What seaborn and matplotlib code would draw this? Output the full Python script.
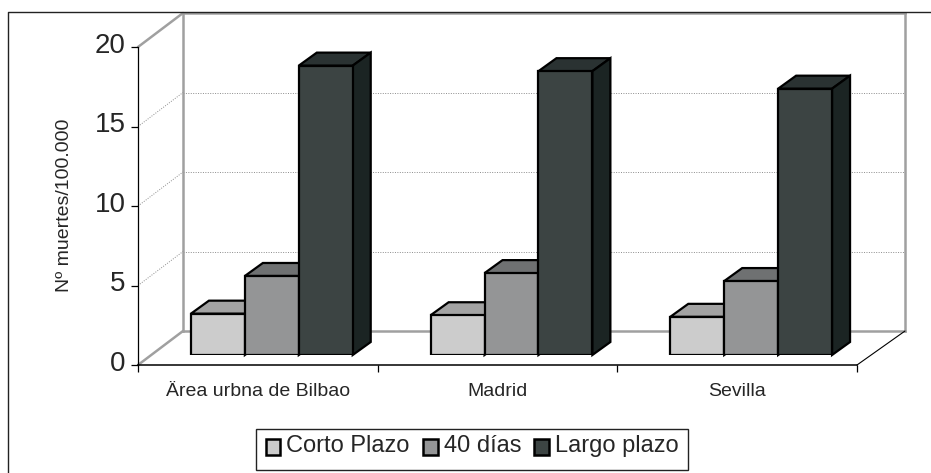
import matplotlib
matplotlib.use('Agg')
import matplotlib.pyplot as plt
import pandas as pd
import seaborn as sns
from matplotlib.lines import Line2D
from matplotlib.patches import Polygon
from matplotlib.transforms import IdentityTransform, ScaledTranslation

zonas = ["Ärea urbna de Bilbao", "Madrid", "Sevilla"]
plazos = ["Corto Plazo", "40 días", "Largo plazo"]
corto = [2.6, 2.5, 2.4]
dias40 = [4.97, 5.15, 4.65]
largo = [18.2, 17.85, 16.75]
yticks = [0, 5, 10, 15, 20]

front_colors = ["#cccccc", "#949596", "#3c4443"]
top_colors = ["#a3a3a3", "#6f7172", "#2a3232"]
side_colors = ["#8a8a8a", "#58595a", "#1b2423"]

W, H = 931, 473
DEPTH_X, DEPTH_Y = 18, 13

df = pd.DataFrame({
    "zona": zonas * 3,
    "plazo": [p for p in plazos for _ in zonas],
    "valor": corto + dias40 + largo,
})

sns.set_style("white")
plt.rcParams['font.family'] = ['Liberation Sans', 'DejaVu Sans']

fig = plt.figure(figsize=(W / 100, H / 100), dpi=100)


def box(x0, y0, x1, y1):
    # pixel box (y measured from the top of the image) -> figure fractions
    return [x0 / W, 1 - y1 / H, (x1 - x0) / W, (y1 - y0) / H]


# 1) back wall with the dotted grid
ax_wall = fig.add_axes(box(183, 13, 905, 331), zorder=1)
ax_wall.set_xlim(0, 1)
ax_wall.set_ylim(0, 20)
ax_wall.set_xticks([])
ax_wall.set_yticks(yticks)
ax_wall.set_yticklabels([])
ax_wall.tick_params(left=False)
ax_wall.grid(axis="y", color="#8c8c8c", linestyle=(0, (1, 1.5)), linewidth=0.7)
for s in ax_wall.spines.values():
    s.set_color("#a0a0a0")
    s.set_linewidth(1.8)

# 2) front plane: the visible axes
ax_front = fig.add_axes(box(138, 47, 857, 365), zorder=2)
ax_front.patch.set_alpha(0)
ax_front.set_xlim(-0.5, 2.5)
ax_front.set_ylim(0, 20)
ax_front.set_yticks(yticks)
ax_front.set_xticks(range(3))
ax_front.set_xticklabels(zonas, fontsize=14)
ax_front.set_xticks([-0.5, 0.5, 1.5, 2.5], minor=True)
ax_front.tick_params(axis="x", which="major", length=0, pad=13)
ax_front.tick_params(axis="x", which="minor", length=5, width=0.9, color="black", bottom=True)
ax_front.tick_params(axis="y", length=5, width=0.9, color="black", left=True, labelsize=20, pad=4)
# labels sit slightly above their ticks in the original
for lab in ax_front.get_yticklabels():
    lab.set_transform(lab.get_transform() + ScaledTranslation(0, 3 / 72, fig.dpi_scale_trans))
ax_front.set_ylabel("Nº muertes/100.000", fontsize=14)
ax_front.yaxis.set_label_coords((73 - 138) / 719, (365 - 205) / 318)
sns.despine(ax=ax_front, top=True, right=True)
ax_front.spines["left"].set_color("black")
ax_front.spines["bottom"].set_color("black")
ax_front.spines["left"].set_linewidth(0.9)
ax_front.spines["bottom"].set_linewidth(1.1)

# 3) bars sit a little behind the front plane
ax_bars = fig.add_axes(box(152, 37, 871, 355), zorder=3)
ax_bars.patch.set_alpha(0)
sns.barplot(data=df, x="zona", y="valor", hue="plazo", hue_order=plazos, order=zonas,
            palette=dict(zip(plazos, front_colors)), saturation=1, width=0.675, gap=0,
            edgecolor="black", linewidth=1.6, ax=ax_bars)
ax_bars.set_xlim(-0.5, 2.5)
ax_bars.set_ylim(0, 20)

# 3D faces, taken from the bars that seaborn drew
fig.canvas.draw()
to_px = ax_bars.transData
for i, cont in enumerate(ax_bars.containers):
    for j, bar in enumerate(cont):
        (x0, y0) = to_px.transform((bar.get_x(), 0))
        (x1, y1) = to_px.transform((bar.get_x() + bar.get_width(), bar.get_height()))
        dx, dy = DEPTH_X, DEPTH_Y
        z = 5 + i
        bar.set_zorder(z + 0.2)
        top = Polygon([(x0, y1), (x1, y1), (x1 + dx, y1 + dy), (x0 + dx, y1 + dy)], closed=True,
                      facecolor=top_colors[i], edgecolor="black", linewidth=1.6,
                      transform=IdentityTransform(), clip_on=False, zorder=z)
        side = Polygon([(x1, y0), (x1 + dx, y0 + dy), (x1 + dx, y1 + dy), (x1, y1)], closed=True,
                       facecolor=side_colors[i], edgecolor="black", linewidth=1.6,
                       transform=IdentityTransform(), clip_on=False, zorder=z)
        ax_bars.add_patch(top)
        ax_bars.add_patch(side)

# connecting lines between front plane and back wall
for v in yticks:
    a = ax_front.transData.transform((-0.5, v))
    b = ax_wall.transData.transform((0, v))
    if v in (0, 20):
        style = dict(color="#a0a0a0", linewidth=1.8)
    else:
        style = dict(color="#8c8c8c", linestyle=(0, (1, 1.5)), linewidth=0.7)
    fig.add_artist(Line2D([a[0], b[0]], [a[1], b[1]], transform=IdentityTransform(), **style))
a = ax_front.transData.transform((2.5, 0))
b = ax_wall.transData.transform((1, 0))
fig.add_artist(Line2D([a[0], b[0]], [a[1], b[1]], transform=IdentityTransform(),
                      color="black", linewidth=0.8))

# outer chart frame: only left and top show in the picture
fig.add_artist(Line2D([8 / W, 8 / W, 1], [0, 1 - 12 / H, 1 - 12 / H], color="#222222", linewidth=1.0))

sns.move_legend(ax_bars, "center", bbox_to_anchor=(472 / W, 1 - 449.5 / H),
                bbox_transform=fig.transFigure, ncol=3, title=None, frameon=True,
                fontsize=17, handlelength=0.63, handleheight=0.63, handletextpad=0.25,
                columnspacing=0.55, borderpad=0.42, fancybox=False, framealpha=1,
                edgecolor="#222222")
leg = ax_bars.get_legend()
leg.get_frame().set_linewidth(1.0)
for h in leg.get_patches():
    h.set_linewidth(1.8)
for t in leg.get_texts():
    t.set_y(4)  # text rides above the swatch, as in the original

ax_bars.set_xlabel("")
ax_bars.set_ylabel("")
ax_bars.set_xticks([])
ax_bars.set_yticks([])
sns.despine(ax=ax_bars, left=True, bottom=True)

fig.savefig("out.png", dpi=100)
